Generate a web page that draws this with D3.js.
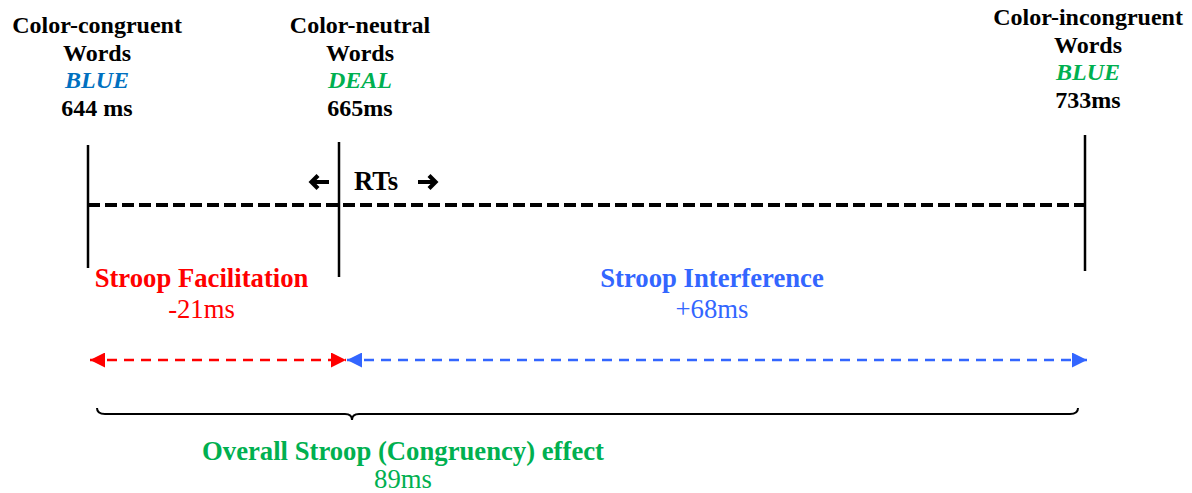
<!DOCTYPE html>
<html><head><meta charset="utf-8">
<script src="https://cdn.jsdelivr.net/npm/d3@7"></script>
<style>body{margin:0;background:#fff}svg{display:block}text{font-family:"Liberation Serif","Times New Roman",serif}</style>
</head><body>
<script>
// ---- data ----
const conditions = ["Color-congruent", "Color-neutral", "Color-incongruent"];
const wordExamples = ["BLUE", "DEAL", "BLUE"];
const wordColors = ["#0070C0", "#00B050", "#00B050"];
const rtValues = [644, 665, 733];
const rtLabels = ["644 ms", "665ms", "733ms"];
const effectNames = ["Stroop Facilitation", "Stroop Interference"];
const effectValues = ["-21ms", "+68ms"];
const effectColors = ["#FF0000", "#3366FF"];
const overallName = "Overall Stroop (Congruency) effect";
const overallValue = "89ms";
const overallColor = "#00B050";

// ---- layout ----
const W = 1192, H = 493;
const svg = d3.select("body").append("svg").attr("width", W).attr("height", H);
const x = d3.scaleLinear().domain(rtValues).range([88, 339, 1085]);

const defs = svg.append("defs");
effectColors.forEach((c, i) => {
  defs.append("marker").attr("id", "ah" + i).attr("viewBox", "0 0 10 10")
    .attr("refX", 10).attr("refY", 5).attr("markerWidth", 16).attr("markerHeight", 15)
    .attr("markerUnits", "userSpaceOnUse").attr("orient", "auto-start-reverse")
    .append("path").attr("d", "M0,0L10,5L0,10Z").attr("fill", c);
});

// header labels
const labelDx = [9, 21, 3];
const labelTop = [33, 33, 25];
const head = svg.append("g").selectAll("g").data(conditions).join("g")
  .attr("transform", (d, i) => `translate(${x(rtValues[i]) + labelDx[i]},${labelTop[i]})`);
head.append("text").attr("text-anchor", "middle").attr("font-size", 24).attr("font-weight", "bold")
  .text(d => d);
head.append("text").attr("text-anchor", "middle").attr("font-size", 24).attr("font-weight", "bold")
  .attr("y", 28).text("Words");
head.append("text").attr("text-anchor", "middle").attr("font-size", 24).attr("font-weight", "bold")
  .attr("font-style", "italic").attr("y", 55).attr("fill", (d, i) => wordColors[i]).text((d, i) => wordExamples[i]);
head.append("text").attr("text-anchor", "middle").attr("font-size", 24).attr("font-weight", "bold")
  .attr("y", 83).text((d, i) => rtLabels[i]);

// vertical lines
const vTop = [145, 142, 135], vBot = [268, 277, 271];
svg.append("g").selectAll("line").data(rtValues).join("line")
  .attr("x1", d => x(d)).attr("x2", d => x(d))
  .attr("y1", (d, i) => vTop[i]).attr("y2", (d, i) => vBot[i])
  .attr("stroke", "#000").attr("stroke-width", 2.5);

// dashed RT axis
svg.append("line").attr("x1", x(rtValues[0])).attr("x2", x(rtValues[2]))
  .attr("y1", 205).attr("y2", 205).attr("stroke", "#000").attr("stroke-width", 3.8)
  .attr("stroke-dasharray", "12,5");

// RTs label with arrows
const rtX = x(rtValues[1]) + 37;
svg.append("text").attr("x", rtX).attr("y", 190).attr("text-anchor", "middle")
  .attr("font-size", 26.7).attr("font-weight", "bold").text("RTs");
const ay = 182;
svg.append("path").attr("d", `M${rtX - 47},${ay}H${rtX - 64}M${rtX - 58},${ay - 6.5}L${rtX - 64.5},${ay}L${rtX - 58},${ay + 6.5}`)
  .attr("fill", "none").attr("stroke", "#000").attr("stroke-width", 4.2).attr("stroke-linejoin", "miter");
svg.append("path").attr("d", `M${rtX + 42},${ay}H${rtX + 59}M${rtX + 53},${ay - 6.5}L${rtX + 59.5},${ay}L${rtX + 53},${ay + 6.5}`)
  .attr("fill", "none").attr("stroke", "#000").attr("stroke-width", 4.2).attr("stroke-linejoin", "miter");

// effect labels
const effMid = [(x(rtValues[0]) + x(rtValues[1])) / 2 - 12, (x(rtValues[1]) + x(rtValues[2])) / 2];
const eff = svg.append("g").selectAll("g").data(effectNames).join("g")
  .attr("transform", (d, i) => `translate(${effMid[i]},287)`).attr("fill", (d, i) => effectColors[i]);
eff.append("text").attr("text-anchor", "middle").attr("font-size", 26.7).attr("font-weight", "bold").text(d => d);
eff.append("text").attr("text-anchor", "middle").attr("font-size", 26.7).attr("y", 31).text((d, i) => effectValues[i]);

// double-headed dashed arrows
const arrowEnds = [[x(rtValues[0]) + 2, x(rtValues[1]) + 7], [x(rtValues[1]) + 8, x(rtValues[2]) + 2]];
svg.append("g").selectAll("line").data(arrowEnds).join("line")
  .attr("x1", d => d[0]).attr("x2", d => d[1]).attr("y1", 360).attr("y2", 360)
  .attr("stroke", (d, i) => effectColors[i]).attr("stroke-width", 2.7).attr("stroke-dasharray", "10,7")
  .attr("marker-start", (d, i) => `url(#ah${i})`).attr("marker-end", (d, i) => `url(#ah${i})`);

// brace
const bL = x(rtValues[0]) + 9, bR = x(rtValues[2]) - 7, bM = x(rtValues[1]) + 13, by = 414;
svg.append("path")
  .attr("d", `M${bL},${by - 6}Q${bL},${by} ${bL + 8},${by}H${bM - 7}Q${bM},${by} ${bM},${by + 6}Q${bM},${by} ${bM + 7},${by}H${bR - 8}Q${bR},${by} ${bR},${by - 6}`)
  .attr("fill", "none").attr("stroke", "#000").attr("stroke-width", 2);

// overall effect
const ov = svg.append("g").attr("transform", "translate(403,460)").attr("fill", overallColor);
ov.append("text").attr("text-anchor", "middle").attr("font-size", 26.7).attr("font-weight", "bold").text(overallName);
ov.append("text").attr("text-anchor", "middle").attr("font-size", 26.7).attr("y", 28).text(overallValue);
</script>
</body></html>
